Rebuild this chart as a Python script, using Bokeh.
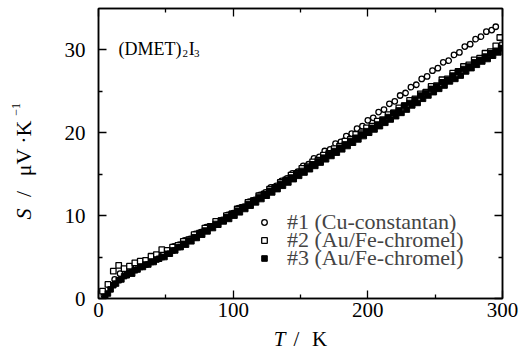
from bokeh.plotting import figure
from bokeh.layouts import column, row
from bokeh.models import (LinearAxis, FixedTicker, Label, Legend, LegendItem, Range1d,
                          CustomLabelingPolicy)
from bokeh.embed import file_html
from bokeh.resources import INLINE
from math import pi

# ---- data ----
T1 = [4, 8, 12, 16, 20, 24, 28, 32, 36, 40, 44, 48, 52, 56, 60, 64, 68, 72, 76, 80,
      84, 88, 92, 96, 100, 104, 108, 112, 116, 120, 124, 128, 132, 136, 140, 144, 148,
      152, 156, 160, 164, 168, 172, 176, 180, 184, 188, 192, 196, 200, 204, 208, 212,
      216, 220, 224, 228, 232, 236, 240, 244, 248, 252, 256, 260, 264, 268, 272, 276,
      280, 284, 288, 292, 295]
S1 = [0.4, 1.6, 2.3, 3.0, 3.2, 3.8, 3.9, 4.4, 4.5, 5.0, 5.1, 5.6, 5.8, 6.3, 6.5, 7.0,
      7.2, 7.8, 8.0, 8.6, 8.7, 9.3, 9.5, 10.1, 10.3, 10.9, 11.1, 11.7, 11.9, 12.5, 12.8,
      13.4, 13.6, 14.2, 14.5, 15.1, 15.3, 16.0, 16.2, 16.9, 17.1, 17.8, 18.0, 18.7, 18.9,
      19.6, 19.9, 20.5, 20.8, 21.5, 21.8, 22.5, 22.8, 23.5, 23.8, 24.5, 24.8, 25.5, 25.8,
      26.5, 26.8, 27.5, 27.8, 28.5, 28.7, 29.4, 29.7, 30.4, 30.7, 31.3, 31.6, 32.2, 32.4,
      32.8]

T2 = [3, 7, 11, 15, 19, 23, 27, 31, 35, 39, 43, 47, 51, 55, 59, 63, 67, 71, 75, 79,
      83, 87, 91, 95, 99, 103, 107, 111, 115, 119, 123, 127, 131, 135, 139, 143, 147,
      151, 155, 159, 163, 167, 171, 175, 179, 183, 187, 191, 195, 199, 203, 207, 211,
      215, 219, 223, 227, 231, 235, 239, 243, 247, 251, 255, 259, 263, 267, 271, 275,
      279, 283, 287, 291, 295, 298, 300]
S2 = [0.9, 1.7, 3.3, 4.0, 3.6, 3.9, 4.3, 4.5, 4.6, 5.1, 5.3, 5.9, 5.8, 6.2, 6.4, 6.9,
      7.1, 7.7, 7.9, 8.5, 8.7, 9.3, 9.4, 10.0, 10.2, 10.8, 11.0, 11.6, 11.8, 12.4, 12.6,
      13.2, 13.4, 14.0, 14.3, 14.9, 15.1, 15.7, 15.9, 16.5, 16.7, 17.3, 17.5, 18.1, 18.4,
      19.0, 19.2, 19.8, 20.0, 20.6, 20.8, 21.4, 21.6, 22.2, 22.4, 23.0, 23.2, 23.9, 24.1,
      24.7, 24.9, 25.6, 25.7, 26.4, 26.5, 27.2, 27.4, 28.0, 28.2, 28.8, 29.0, 29.6, 29.8,
      30.5, 31.5, 30.6]

T3 = [5, 7, 9, 11, 13, 15, 17, 19, 21, 23, 25, 27, 29, 31, 33, 35, 37, 39, 41, 43,
      45, 47, 49, 51, 53, 55, 57, 59, 61, 63, 65, 67, 69, 71, 73, 75, 77, 79, 81, 83,
      85, 87, 89, 91, 93, 95, 97, 99, 101, 103, 105, 107, 109, 111, 113, 115, 117, 119,
      121, 123, 125, 127, 129, 131, 133, 135, 137, 139, 141, 143, 145, 147, 149, 151,
      153, 155, 157, 159, 161, 163, 165, 167, 169, 171, 173, 175, 177, 179, 181, 183,
      185, 187, 189, 191, 193, 195, 197, 199, 201, 203, 205, 207, 209, 211, 213, 215,
      217, 219, 221, 223, 225, 227, 229, 231, 233, 235, 237, 239, 241, 243, 245, 247,
      249, 251, 253, 255, 257, 259, 261, 263, 265, 267, 269, 271, 273, 275, 277, 279,
      281, 283, 285, 287, 289, 291, 293, 295, 297, 299]
S3 = [0.2, 0.6, 1.1, 1.6, 1.8, 2.2, 2.3, 2.7, 2.8, 3.1, 3.0, 3.4, 3.5, 3.8, 3.8, 4.1,
      4.1, 4.4, 4.4, 4.7, 4.8, 5.0, 5.0, 5.4, 5.4, 5.8, 5.8, 6.2, 6.2, 6.6, 6.5, 7.0,
      6.9, 7.4, 7.3, 7.8, 7.7, 8.2, 8.1, 8.6, 8.5, 9.0, 8.9, 9.4, 9.3, 9.8, 9.6, 10.2,
      10.0, 10.6, 10.4, 11.0, 10.8, 11.4, 11.2, 11.8, 11.6, 12.2, 12.0, 12.6, 12.4, 13.0,
      12.8, 13.4, 13.2, 13.8, 13.6, 14.2, 14.0, 14.6, 14.4, 15.0, 14.8, 15.4, 15.2, 15.8,
      15.6, 16.2, 16.0, 16.6, 16.4, 17.0, 16.8, 17.4, 17.2, 17.8, 17.6, 18.2, 18.0, 18.6,
      18.4, 19.0, 18.8, 19.4, 19.2, 19.8, 19.6, 20.2, 20.0, 20.6, 20.4, 21.0, 20.8, 21.5,
      21.2, 21.9, 21.6, 22.4, 22.0, 22.7, 22.4, 23.3, 22.8, 23.6, 23.3, 24.0, 23.6, 24.5,
      24.1, 24.8, 24.5, 25.3, 24.9, 25.6, 25.3, 26.1, 25.7, 26.4, 26.2, 26.9, 26.5, 27.3,
      26.9, 27.7, 27.4, 28.0, 27.8, 28.5, 28.2, 28.8, 28.6, 29.2, 28.9, 29.6, 29.3, 29.9,
      29.7, 30.2]

legend_labels = ["#1 (Cu-constantan)", "#2 (Au/Fe-chromel)", "#3 (Au/Fe-chromel)"]
x_ticks = [0, 100, 200, 300]
x_minor = [50, 150, 250]
y_ticks = [0, 10, 20, 30]
y_minor = [5, 15, 25]

FONT = "Liberation Serif"

# ---------------- main plot ----------------
p = figure(width=483, height=326, x_range=Range1d(0, 300), y_range=Range1d(0, 35),
           output_backend="svg", toolbar_location=None,
           min_border_left=58, min_border_right=21, min_border_top=8, min_border_bottom=28)
p.grid.visible = False
p.outline_line_color = "black"
p.outline_line_width = 1.5
p.background_fill_color = "white"
p.border_fill_color = "white"

no_labels = CustomLabelingPolicy(code="""
for (let i = 0; i < indices.size; i++) { indices.unset(i) }
return indices
""")

def style_axis(ax, ticks, minor, show_labels=True):
    ax.ticker = FixedTicker(ticks=ticks, minor_ticks=minor)
    ax.axis_line_color = "black"
    ax.axis_line_width = 1.5
    ax.major_tick_in = 8
    ax.major_tick_out = 0
    ax.minor_tick_in = 4
    ax.minor_tick_out = 0
    ax.major_tick_line_width = 1.3
    ax.minor_tick_line_width = 1.3
    ax.major_tick_line_color = "black"
    ax.minor_tick_line_color = "black"
    if show_labels:
        ax.major_label_text_font = FONT
        ax.major_label_text_font_size = "21px"
        ax.major_label_text_color = "black"
    else:
        ax.major_label_text_font_size = "0px"
        ax.major_label_standoff = 0
        ax.major_label_policy = no_labels

style_axis(p.xaxis[0], x_ticks, x_minor)
p.xaxis[0].major_label_standoff = 4
style_axis(p.yaxis[0], y_ticks, y_minor)
p.yaxis[0].major_label_standoff = 13

top = LinearAxis()
style_axis(top, x_ticks, x_minor, show_labels=False)
p.add_layout(top, "above")
right = LinearAxis()
style_axis(right, y_ticks, y_minor, show_labels=False)
p.add_layout(right, "right")

r1 = p.scatter(T1, S1, marker="circle", size=5.5, fill_color="white",
               line_color="black", line_width=1.3)
r2 = p.scatter(T2, S2, marker="square", size=5.5, fill_color="white",
               line_color="black", line_width=1.3)
r3 = p.scatter(T3, S3, marker="square", size=5.5, fill_color="black",
               line_color="black", line_width=1.0)

# one legend per row, so the rows can sit as close together as in the original
for lbl, rend, ypos in zip(legend_labels, [r1, r2, r3], [63.5, 45.5, 27.5]):
    lg = Legend(items=[LegendItem(label=lbl, renderers=[rend])],
                location=(159, ypos), border_line_color=None, background_fill_alpha=0,
                padding=0, margin=0, spacing=0, glyph_width=14, glyph_height=18,
                label_height=18, label_standoff=16, label_text_font=FONT,
                label_text_font_size="22px")
    p.add_layout(lg, "center")

def lab(fig, text, x, y, size="22px", style="normal", angle=0.0, align="left"):
    fig.add_layout(Label(x=x, y=y, text=text, text_font=FONT, text_font_size=size,
                         text_font_style=style, text_color="black", angle=angle,
                         text_align=align, text_baseline="middle"))

# compound title (DMET)2I3
lab(p, "(DMET)", 14.8, 30.17, size="18px")
lab(p, "2", 62.4, 29.57, size="11px")
lab(p, "I", 67.0, 30.17, size="18px")
lab(p, "3", 71.0, 29.57, size="11px")

# ---------------- label strips (pixel coordinates) ----------------
def strip(w, h):
    f = figure(width=w, height=h, x_range=Range1d(0, w), y_range=Range1d(0, h),
               x_axis_type=None, y_axis_type=None, output_backend="svg",
               toolbar_location=None, min_border=0)
    f.outline_line_color = None
    f.grid.visible = False
    f.background_fill_color = "white"
    f.border_fill_color = "white"
    return f

ylab = strip(40, 326)
lab(ylab, "S", 23, 95, style="italic", angle=pi / 2, align="center")
lab(ylab, "/", 23, 117.5, angle=pi / 2, align="center")
lab(ylab, "μV", 23, 153, angle=pi / 2, align="center")
lab(ylab, "·", 23, 178, angle=pi / 2, align="center")
lab(ylab, "K", 23, 191, angle=pi / 2, align="center")
lab(ylab, "−1", 15.5, 212.5, size="12px", angle=pi / 2, align="center")

xlab = strip(523, 24)
lab(xlab, "T", 279, 12, size="21px", style="italic", align="center")
lab(xlab, "/", 296, 12, size="21px", align="center")
lab(xlab, "K", 319, 12, size="21px", align="center")

layout = column(row(ylab, p, spacing=0), xlab, spacing=0)
open("out.html", "w").write(file_html(layout, INLINE))
